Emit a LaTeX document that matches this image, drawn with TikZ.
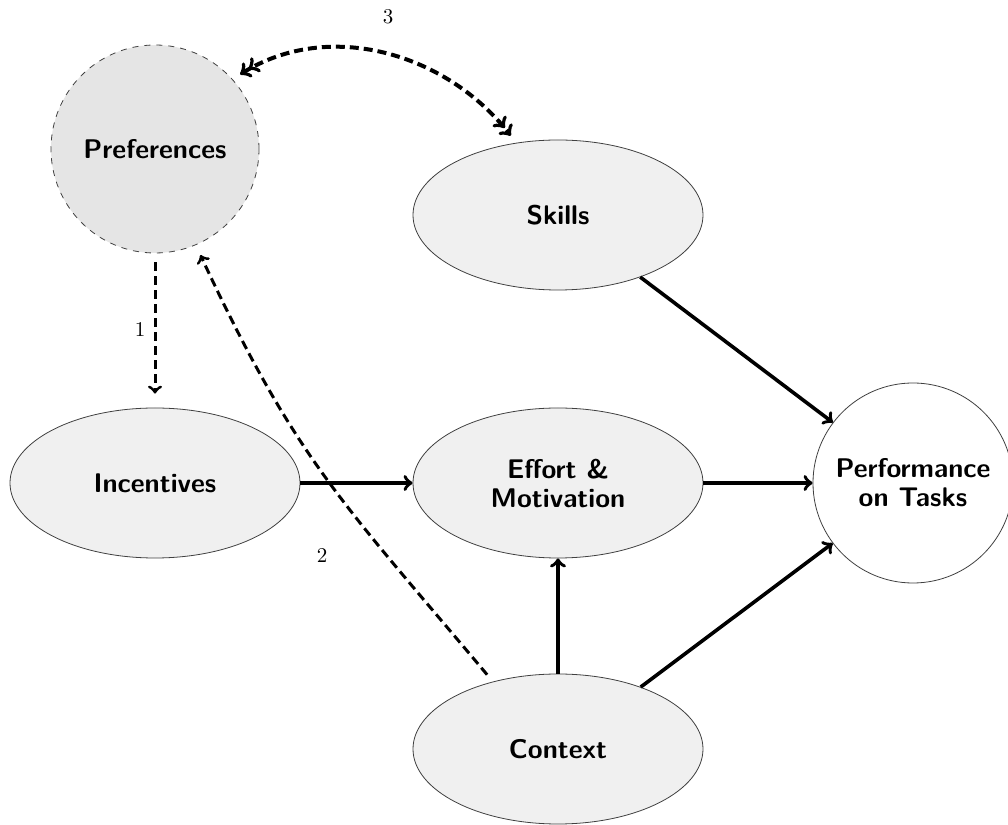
\documentclass[tikz,border=0pt]{standalone}
\usetikzlibrary{shapes.geometric}
\begin{document}
\begin{tikzpicture}[x=0.5pt,y=0.5pt,
  every node/.style={font=\sffamily\bfseries\fontsize{13.5}{14.5}\selectfont, align=center},
  oval/.style={ellipse, draw=black!75, line width=0.4pt, fill=black!6, minimum width=145pt, minimum height=75pt, inner sep=0pt},
  roundbox/.style={circle, draw=black!75, line width=0.4pt, inner sep=0pt},
  solidarrow/.style={->, line width=1.8pt},
  dasharrow/.style={->, line width=1.5pt, dash pattern=on 4.5pt off 2.5pt},
  numlabel/.style={font=\rmfamily\fontsize{10.5}{12}\selectfont}
]
\useasboundingbox (0,0) rectangle (1008,825);
\node[roundbox, dashed, fill=black!10, minimum size=104pt] (pref) at (155,676) {Preferences};
\node[oval] (skills) at (558,610) {Skills};
\node[oval] (inc) at (155,342) {Incentives};
\node[oval] (effort) at (558,342) {Effort \&\\Motivation};
\node[roundbox, fill=white, minimum size=100pt] (perf) at (913,342) {Performance\\on Tasks};
\node[oval] (context) at (558,76) {Context};

\draw[solidarrow] (inc.east) -- (effort.west);
\draw[solidarrow] (effort.east) -- (perf.west);
\draw[solidarrow] (skills) -- (perf);
\draw[solidarrow] (context) -- (effort);
\draw[solidarrow] (context) -- (perf);

\draw[dasharrow, shorten <=4.5pt, shorten >=7pt] (pref.south) -- (inc.north);
\draw[dasharrow, shorten <=4.5pt, shorten >=5.5pt] (context.134) to[out=130, in=-65, looseness=1.15] (pref.-67);
\draw[dasharrow, <<->>, line width=2pt, shorten <=4.5pt, shorten >=4.5pt] (pref.42) to[out=32, in=128] (skills.120);

\node[numlabel] (l1) at (140,495) {1};
\node[numlabel] (l2) at (322,269) {2};
\node[numlabel] (l3) at (388,808) {3};
\end{tikzpicture}
\end{document}
